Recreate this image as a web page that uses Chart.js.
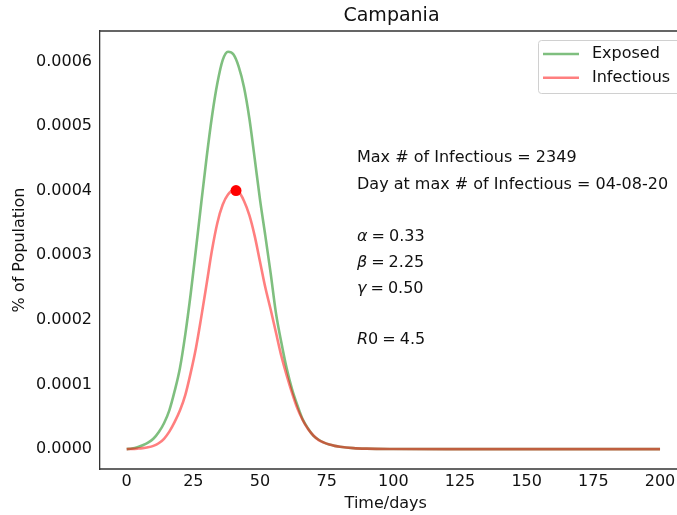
<!DOCTYPE html>
<html>
<head>
<meta charset="utf-8">
<script src="https://cdn.jsdelivr.net/npm/chart.js@4.4.1/dist/chart.umd.min.js"></script>
<style>
  html, body { margin: 0; padding: 0; background: #fff; }
  canvas { display: block; }
</style>
</head>
<body>
<canvas id="seir" width="677" height="515"></canvas>
<script>
const region = "Campania";

// days
const days = [0, 2, 4, 6, 8, 10, 12, 14, 16, 18, 20, 22, 24, 26, 28, 30, 32, 34, 36, 38,
  40, 42, 44, 46, 48, 50, 52, 54, 56, 58, 60, 62, 64, 66, 68, 70, 72, 74, 76, 78,
  80, 85, 90, 100, 120, 140, 160, 180, 200];

const exposed = [0, 0.000001, 0.000003, 0.000006, 0.00001, 0.000016, 0.000026, 0.00004, 0.00006, 0.00009,
  0.000126, 0.000178, 0.00024, 0.00031, 0.000382, 0.000452, 0.000515, 0.000566, 0.000602, 0.000615,
  0.000611, 0.000592, 0.00056, 0.000512, 0.00045, 0.000386, 0.00033, 0.000272, 0.00021, 0.000165,
  0.000125, 0.000093, 0.000068, 0.000046, 0.000032, 0.000021, 0.0000145, 0.00001, 0.000007, 0.000005,
  0.0000035, 0.0000015, 0.0000007, 0.0000002, 0, 0, 0, 0, 0];

const infectious = [0, 0.0000003, 0.0000008, 0.0000015, 0.0000028, 0.000005, 0.000009, 0.000016, 0.000027, 0.000042,
  0.00006, 0.000084, 0.000118, 0.000157, 0.000205, 0.000256, 0.000308, 0.00035, 0.000378, 0.000394,
  0.0004, 0.000398, 0.000384, 0.000362, 0.00033, 0.00029, 0.00025, 0.000216, 0.00018, 0.000144,
  0.000114, 0.000087, 0.000063, 0.000045, 0.000031, 0.000021, 0.000014, 0.00001, 0.000007, 0.000005,
  0.0000035, 0.0000015, 0.0000007, 0.0000002, 0, 0, 0, 0, 0];

const peakDay = 41;
const peakValue = 0.0004;

const xTicks = [0, 25, 50, 75, 100, 125, 150, 175, 200];
const yTicks = [0, 0.0001, 0.0002, 0.0003, 0.0004, 0.0005, 0.0006];

const statLines = [
  { y: 158, plain: "Max # of Infectious = 2349" },
  { y: 185, plain: "Day at max # of Infectious = 04-08-20" },
  { y: 237, sym: "α", val: "0.33" },
  { y: 263, sym: "β", val: "2.25" },
  { y: 289, sym: "γ", val: "0.50" },
  { y: 340, sym: "R", sub: "0", val: "4.5" },
];

const FONT = "'DejaVu Sans', sans-serif";
const INK = "#111";

const toPts = (vals) => days.map((d, i) => ({ x: d, y: vals[i] }));

const extras = {
  id: "extras",
  afterDraw(chart) {
    const c = chart.ctx;
    const area = chart.chartArea;
    c.save();

    // top and bottom spines run off the cropped right edge
    c.strokeStyle = "#333";
    c.lineWidth = 1.3;
    c.beginPath();
    c.moveTo(area.left, area.top);
    c.lineTo(chart.width, area.top);
    c.moveTo(area.left, area.bottom);
    c.lineTo(chart.width, area.bottom);
    c.stroke();

    // title, centred on the full (cropped) axes
    c.fillStyle = INK;
    c.font = "19px " + FONT;
    c.textAlign = "center";
    c.textBaseline = "middle";
    c.fillText(region, 391.5, 16);

    // legend
    const lx = 538, ly = 40, lw = 150, lh = 53;
    c.fillStyle = "rgba(255,255,255,0.8)";
    c.strokeStyle = "#d0d0d0";
    c.lineWidth = 1;
    c.beginPath();
    c.roundRect(lx + 0.5, ly + 0.5, lw, lh, 3);
    c.fill();
    c.stroke();
    const entries = chart.data.datasets.filter((ds) => ds.label);
    c.font = "16px " + FONT;
    c.textAlign = "left";
    entries.forEach((ds, i) => {
      const yy = 54 + i * 23.7;
      c.strokeStyle = ds.borderColor;
      c.lineWidth = 2.5;
      c.beginPath();
      c.moveTo(543, yy);
      c.lineTo(579, yy);
      c.stroke();
      c.fillStyle = INK;
      c.fillText(ds.label, 592, yy);
    });

    // stats text
    const x0 = 357;
    statLines.forEach((ln) => {
      c.fillStyle = INK;
      if (ln.plain) {
        c.font = "16px " + FONT;
        c.fillText(ln.plain, x0, ln.y);
        return;
      }
      let x = x0;
      c.font = "italic 16px " + FONT;
      c.fillText(ln.sym, x, ln.y);
      x += c.measureText(ln.sym).width;
      c.font = "16px " + FONT;
      if (ln.sub) {
        c.fillText(ln.sub, x, ln.y);
        x += c.measureText(ln.sub).width;
      }
      x += 4;
      c.fillText("=", x, ln.y);
      x += c.measureText("=").width + 4;
      c.fillText(ln.val, x, ln.y);
    });

    c.restore();
  },
};

new Chart(document.getElementById("seir").getContext("2d"), {
  type: "line",
  data: {
    datasets: [
      {
        label: "Exposed",
        data: toPts(exposed),
        borderColor: "rgba(0,128,0,0.5)",
        borderWidth: 2.6,
        pointRadius: 0,
        cubicInterpolationMode: "monotone",
        fill: false,
        order: 2,
      },
      {
        label: "Infectious",
        data: toPts(infectious),
        borderColor: "rgba(255,0,0,0.5)",
        borderWidth: 2.6,
        pointRadius: 0,
        cubicInterpolationMode: "monotone",
        fill: false,
        order: 1,
      },
      {
        data: [{ x: peakDay, y: peakValue }],
        showLine: false,
        pointRadius: 5.5,
        pointBackgroundColor: "#ff0000",
        pointBorderWidth: 0,
        order: 0,
      },
    ],
  },
  options: {
    responsive: false,
    animation: false,
    events: [],
    layout: { padding: { top: 31, right: 0, left: 0, bottom: 0 } },
    plugins: {
      legend: { display: false },
      title: { display: false },
      tooltip: { enabled: false },
    },
    scales: {
      x: {
        type: "linear",
        min: -10,
        max: 204.3,
        grid: { display: false, drawTicks: false },
        border: { display: false },
        afterBuildTicks: (s) => { s.ticks = xTicks.map((v) => ({ value: v })); },
        afterFit: (s) => {
          s.height = 46;
          s.paddingLeft = 0;
          s.paddingRight = 0;
        },
        ticks: {
          autoSkip: false,
          maxRotation: 0,
          padding: 3,
          color: INK,
          font: { family: FONT, size: 16 },
          callback: (v) => String(v),
        },
        title: {
          display: true,
          text: "Time/days",
          color: INK,
          font: { family: FONT, size: 16 },
          padding: { top: 0, bottom: 2 },
        },
      },
      y: {
        min: -0.0000308,
        max: 0.000647,
        grid: { display: false, drawTicks: false },
        border: { display: true, color: "#333", width: 1.3 },
        afterBuildTicks: (s) => { s.ticks = yTicks.map((v) => ({ value: v })); },
        afterFit: (s) => {
          s.width = 100;
          s.paddingTop = 0;
          s.paddingBottom = 0;
        },
        ticks: {
          autoSkip: false,
          padding: 8,
          color: INK,
          font: { family: FONT, size: 16 },
          callback: (v) => v.toFixed(4),
        },
        title: {
          display: true,
          text: "% of Population",
          color: INK,
          font: { family: FONT, size: 16 },
          padding: { top: 10, bottom: 0 },
        },
      },
    },
  },
  plugins: [extras],
});
</script>
</body>
</html>
